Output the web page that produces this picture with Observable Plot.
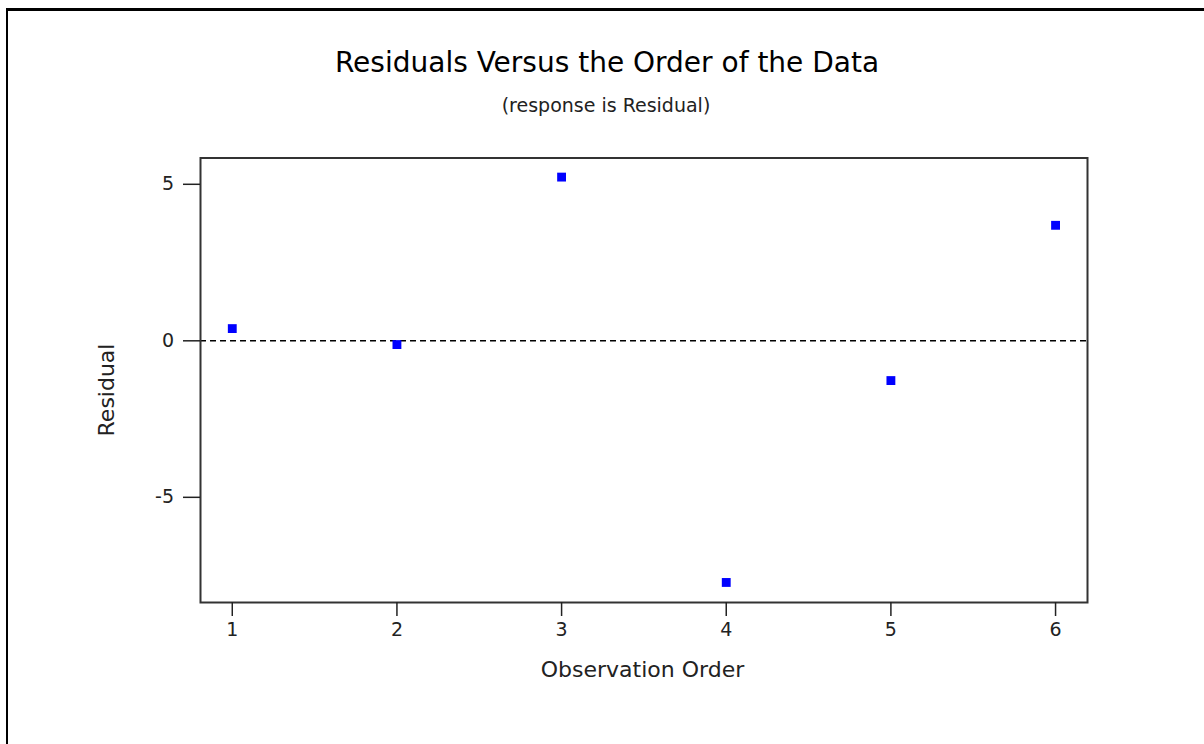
<!DOCTYPE html>
<html><head><meta charset="utf-8">
<script src="https://cdn.jsdelivr.net/npm/d3@7"></script>
<script src="https://cdn.jsdelivr.net/npm/@observablehq/plot@0.6"></script>
<style>
html,body{margin:0;padding:0;background:#fff;}
#wrap{position:relative;width:1204px;height:744px;overflow:hidden;}
#wrap svg{position:absolute;left:0;top:0;}
#border{position:absolute;left:6px;top:8px;width:1400px;height:900px;border-top:3px solid #000;border-left:2px solid #000;pointer-events:none;z-index:2;}
</style></head><body><div id="wrap"><div id="border"></div></div>
<script>
const order = [1, 2, 3, 4, 5, 6];
const residual = [0.39, -0.12, 5.23, -7.72, -1.27, 3.69];
const xTicks = [1, 2, 3, 4, 5, 6];
const yTicks = [-5, 0, 5];
const title = "Residuals Versus the Order of the Data";
const subtitle = "(response is Residual)";
const xLabel = "Observation Order";
const yLabel = "Residual";

const data = order.map((o, i) => ({order: o, residual: residual[i]}));

const chart = Plot.plot({
  width: 1204,
  height: 744,
  marginLeft: 200,
  marginRight: 117,
  marginTop: 157.5,
  marginBottom: 142,
  x: {domain: [0.807, 6.194], label: null},
  y: {domain: [-8.36, 5.84], label: null},
  style: {fontFamily: "'DejaVu Sans', sans-serif", fontSize: "19px", color: "#222", background: "transparent", overflow: "visible"},
  marks: [
    Plot.ruleY([0], {stroke: "#000", strokeWidth: 1.5, strokeDasharray: "6,4"}),
    Plot.frame({stroke: "#333", strokeWidth: 2}),
    Plot.axisX({ticks: xTicks, tickSize: 14, tickPadding: 6, tickFormat: d => String(d), strokeWidth: 1.5, fontSize: 19, label: null}),
    Plot.axisY({ticks: yTicks, tickSize: 17, tickPadding: 9.5, tickFormat: d => String(d), strokeWidth: 1.5, fontSize: 19, label: null}),
    Plot.dot(data, {x: "order", y: "residual", symbol: "square", r: 5, fill: "#0000ff", stroke: null}),
    Plot.text([title], {text: d => d, frameAnchor: "top", textAnchor: "middle", lineAnchor: "bottom", dx: -37, dy: -86.5, fontSize: 28, fill: "#000"}),
    Plot.text([subtitle], {text: d => d, frameAnchor: "top", textAnchor: "middle", lineAnchor: "bottom", dx: -38, dy: -46.5, fontSize: 19, fill: "#222"}),
    Plot.text([xLabel], {text: d => d, frameAnchor: "bottom", textAnchor: "middle", lineAnchor: "bottom", dx: -1.5, dy: 74.5, fontSize: 22, fill: "#222"}),
    Plot.text([yLabel], {text: d => d, frameAnchor: "left", textAnchor: "middle", lineAnchor: "middle", rotate: -90, dx: -94, dy: 9.75, fontSize: 22, fill: "#222"})
  ]
});
document.getElementById("wrap").prepend(chart);
</script>
</body></html>
